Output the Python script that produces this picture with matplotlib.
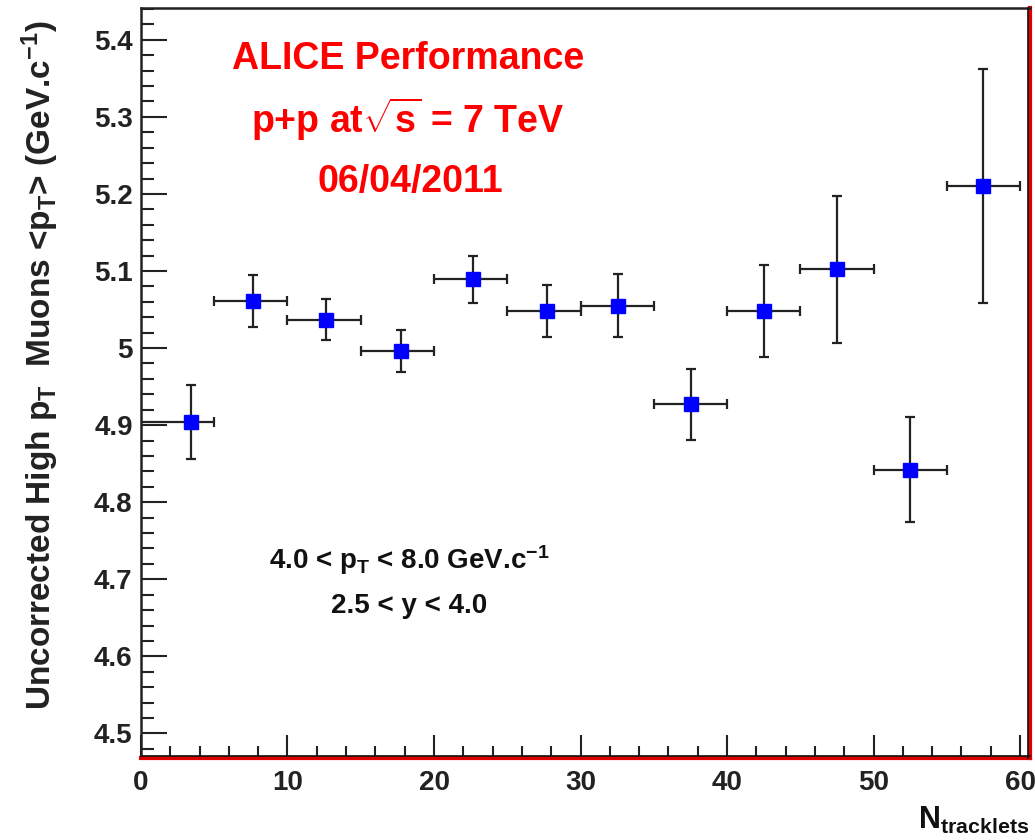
import matplotlib
matplotlib.use("Agg")
import matplotlib.pyplot as plt
from matplotlib import font_manager
from matplotlib.ticker import MultipleLocator
import numpy as np

# ---- data ----
bin_lo = [0, 5, 10, 15, 20, 25, 30, 35, 40, 45, 50, 55]
bin_hi = [5, 10, 15, 20, 25, 30, 35, 40, 45, 50, 55, 60]
n_mean = [3.39, 7.62, 12.63, 17.73, 22.68, 27.69, 32.58, 37.54, 42.55, 47.53, 52.49, 57.49]
mean_pt = [4.904, 5.061, 5.037, 4.996, 5.089, 5.048, 5.055, 4.927, 5.048, 5.102, 4.842, 5.210]
mean_pt_err = [0.048, 0.034, 0.027, 0.027, 0.031, 0.034, 0.041, 0.046, 0.060, 0.095, 0.068, 0.152]

names = {f.name for f in font_manager.fontManager.ttflist}
fam = "Liberation Sans Narrow" if "Liberation Sans Narrow" in names else "Liberation Sans"

plt.rcParams['font.family'] = [fam, 'DejaVu Sans']
plt.rcParams['font.weight'] = 'bold'
plt.rcParams['mathtext.fontset'] = 'custom'
plt.rcParams['mathtext.rm'] = f'{fam}:bold'
plt.rcParams['mathtext.it'] = f'{fam}:bold'
plt.rcParams['mathtext.bf'] = f'{fam}:bold'
plt.rcParams['mathtext.sf'] = f'{fam}:bold'

fig = plt.figure(figsize=(10.35, 8.4), dpi=100)
ax = fig.add_axes([0.1362, 0.098, 0.859, 0.8925])

x = np.array(n_mean)
xerr = np.array([x - np.array(bin_lo), np.array(bin_hi) - x])
ax.errorbar(x, mean_pt, xerr=xerr, yerr=mean_pt_err, fmt='s', color='#0000ff',
            markersize=10, ecolor='#222222', elinewidth=1.6, capsize=3.5, capthick=1.6,
            markeredgecolor='#0000ff', zorder=3)

ax.set_xlim(0, 60.68)
ax.set_ylim(4.4685, 5.4413)
ax.xaxis.set_major_locator(MultipleLocator(10))
ax.xaxis.set_minor_locator(MultipleLocator(2))
ax.yaxis.set_major_locator(MultipleLocator(0.1))
ax.yaxis.set_minor_locator(MultipleLocator(0.02))

def fmt(v, pos):
    s = f"{v:.1f}"
    return s[:-2] if s.endswith(".0") else s
ax.yaxis.set_major_formatter(plt.FuncFormatter(fmt))

ax.tick_params(axis='both', which='both', direction='in', colors='#222222', width=1.5,
               top=False, right=False)
ax.tick_params(axis='x', which='major', length=16.5, labelsize=20, pad=9)
ax.tick_params(axis='x', which='minor', length=8.5)
ax.tick_params(axis='y', which='major', length=18.5, labelsize=20, pad=6)
ax.tick_params(axis='y', which='minor', length=9.5)
for lab in ax.get_xticklabels() + ax.get_yticklabels():
    lab.set_fontweight('bold')

for s in ['top', 'left']:
    ax.spines[s].set_color('#222222')
    ax.spines[s].set_linewidth(1.8)
for s in ['bottom', 'right']:
    ax.spines[s].set_color('#dd0000')
    ax.spines[s].set_linewidth(3.0)
ax.plot([0, 1], [0.002, 0.002], transform=ax.transAxes, color='#111111', lw=1.2, clip_on=False, zorder=5)
ax.plot([0.998, 0.998], [0, 1], transform=ax.transAxes, color='#111111', lw=1.2, clip_on=False, zorder=5)

ax.set_ylabel(r'Uncorrected High p$_{\mathrm{T}}$  Muons <p$_{\mathrm{T}}$> (GeV.c$^{-1}$)',
              fontsize=24, fontweight='bold', color='#222222')
ax.yaxis.set_label_coords(-0.09, 0.524)

fig.text(0.995, 0.005, r'N$_{\mathrm{tracklets}}$', ha='right', va='bottom', fontsize=22,
         fontweight='bold', color='#111111')

red = '#ff0000'
fig.text(0.394, 0.93, 'ALICE Performance', ha='center', va='center', fontsize=27, fontweight='bold', color=red)
fig.text(0.394, 0.858, r'p+p at$\sqrt{s}$ = 7 TeV', ha='center', va='center', fontsize=27, fontweight='bold', color=red)
fig.text(0.396, 0.783, '06/04/2011', ha='center', va='center', fontsize=27, fontweight='bold', color=red)

fig.text(0.395, 0.333, r'4.0 < p$_{\mathrm{T}}$ < 8.0 GeV.c$^{-1}$', ha='center', va='center', fontsize=20, fontweight='bold', color='#111111')
fig.text(0.395, 0.279, '2.5 < y < 4.0', ha='center', va='center', fontsize=20, fontweight='bold', color='#111111')

fig.savefig('out.png', dpi=100)
